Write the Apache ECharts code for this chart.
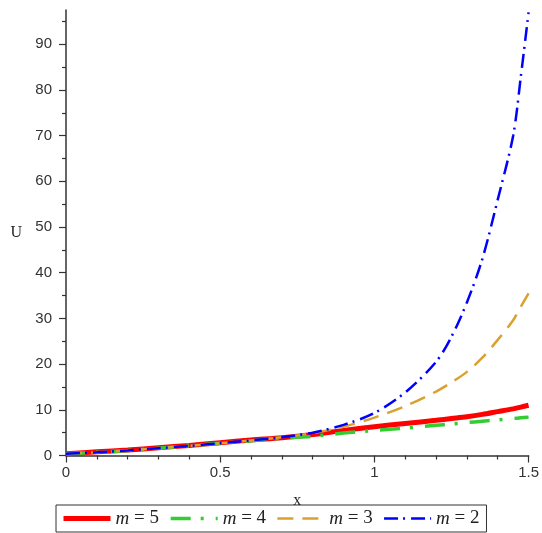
<!DOCTYPE html>
<html>
<head>
<meta charset="utf-8">
<script src="https://cdn.jsdelivr.net/npm/echarts@6/dist/echarts.min.js"></script>
<style>
html,body{margin:0;padding:0;background:#fff;}
#c{width:542px;height:533px;}
</style>
</head>
<body>
<div id="c"></div>
<script>
var xValues = [0,0.1,0.2,0.3,0.4,0.5,0.6,0.7,0.8,0.9,1.0,1.1,1.2,1.25,1.3,1.35,1.4,1.45,1.475,1.5];
var m5 = [0.4,0.8,1.2,1.7,2.2,2.8,3.4,3.9,4.6,5.5,6.3,7.0,7.7,8.1,8.5,9.0,9.6,10.2,10.6,11.0];
var m4 = [0.4,0.7,1.1,1.6,2.1,2.7,3.2,3.8,4.2,4.9,5.5,6.0,6.6,6.9,7.2,7.5,7.8,8.1,8.25,8.4];
var m3 = [0.4,0.7,1.1,1.6,2.1,2.7,3.3,4.0,4.9,6.3,8.3,10.8,14.0,16.0,18.3,21.4,25.3,29.6,32.6,35.5];
var m2 = [0.4,0.7,1.1,1.6,2.1,2.7,3.3,4.0,5.0,6.7,9.3,13.8,20.5,26.0,33.5,43,56,70,83,97];
var seriesNames = ['m = 5','m = 4','m = 3','m = 2'];
var yLabelValues = [0,10,20,30,40,50,60,70,80,90];
var yMinorValues = [5,15,25,35,45,55,65,75,85,95];

function pairs(ys){ return xValues.map(function(x,i){ return [x, ys[i]]; }); }

var chart = echarts.init(document.getElementById('c'), null, {renderer:'canvas'});
var axisCol = '#333';
var lblFont = {color:'#333', fontFamily:'Liberation Sans', fontSize:15};
var option = {
  animation:false,
  grid:{left:66, right:11, top:10, bottom:77.5},
  legend:{
    left:56, top:505, orient:'horizontal',
    itemWidth:47, itemHeight:14, itemGap:10,
    padding:[4,7,4,5],
    borderColor:'#333', borderWidth:1,
    lineStyle:{width:'inherit'},
    itemStyle:{opacity:0, color:'transparent', borderWidth:0},
    data:seriesNames,
    formatter:function(n){ return '{i|m} = ' + n.split('= ')[1]; },
    textStyle:{
      fontFamily:'Liberation Serif', fontSize:19, color:'#222',
      rich:{ i:{fontStyle:'italic', fontFamily:'Liberation Serif', fontSize:19, color:'#222'} }
    }
  },
  xAxis:{
    type:'value', min:0, max:1.5, interval:0.5,
    name:'x', nameLocation:'middle', nameGap:37,
    nameTextStyle:{fontFamily:'Liberation Serif', fontSize:16, color:'#222'},
    axisLine:{lineStyle:{color:axisCol, width:1.5}},
    axisTick:{show:true, length:7, lineStyle:{color:axisCol, width:1.2}},
    minorTick:{show:true, splitNumber:5, length:4, lineStyle:{color:axisCol, width:1.2}},
    splitLine:{show:false},
    axisLabel:Object.assign({margin:10}, lblFont)
  },
  yAxis:[{
    type:'value', min:0, max:97.5,
    name:'U', nameLocation:'middle', nameGap:44, nameRotate:0,
    nameTextStyle:{fontFamily:'Liberation Serif', fontSize:16, color:'#222'},
    axisLine:{show:true, lineStyle:{color:axisCol, width:1.5}},
    axisTick:{show:true, length:7, customValues:yLabelValues, lineStyle:{color:axisCol, width:1.2}},
    splitLine:{show:false},
    axisLabel:Object.assign({margin:14, customValues:yLabelValues}, lblFont)
  },{
    type:'value', min:0, max:97.5, position:'left',
    axisLine:{show:false},
    axisTick:{show:true, length:4, customValues:yMinorValues, lineStyle:{color:axisCol, width:1.2}},
    splitLine:{show:false},
    axisLabel:{show:false}
  }],
  series:[
    {name:seriesNames[0], type:'line', data:pairs(m5), smooth:0.3, symbol:'none',
     lineStyle:{color:'#ff0000', width:5, type:'solid'}, itemStyle:{color:'#ff0000'}},
    {name:seriesNames[1], type:'line', data:pairs(m4), smooth:0.3, symbol:'none',
     lineStyle:{color:'#33cc33', width:3.5, type:[20,10,3,12]}, itemStyle:{color:'#33cc33'}},
    {name:seriesNames[2], type:'line', data:pairs(m3), smooth:0.3, symbol:'none',
     lineStyle:{color:'#daa030', width:2.5, type:[16,9]}, itemStyle:{color:'#daa030'}},
    {name:seriesNames[3], type:'line', data:pairs(m2), smooth:0.3, symbol:'none',
     lineStyle:{color:'#0000ff', width:2.5, type:[14,5,2,6]}, itemStyle:{color:'#0000ff'}}
  ]
};
chart.setOption(option);
</script>
</body>
</html>
